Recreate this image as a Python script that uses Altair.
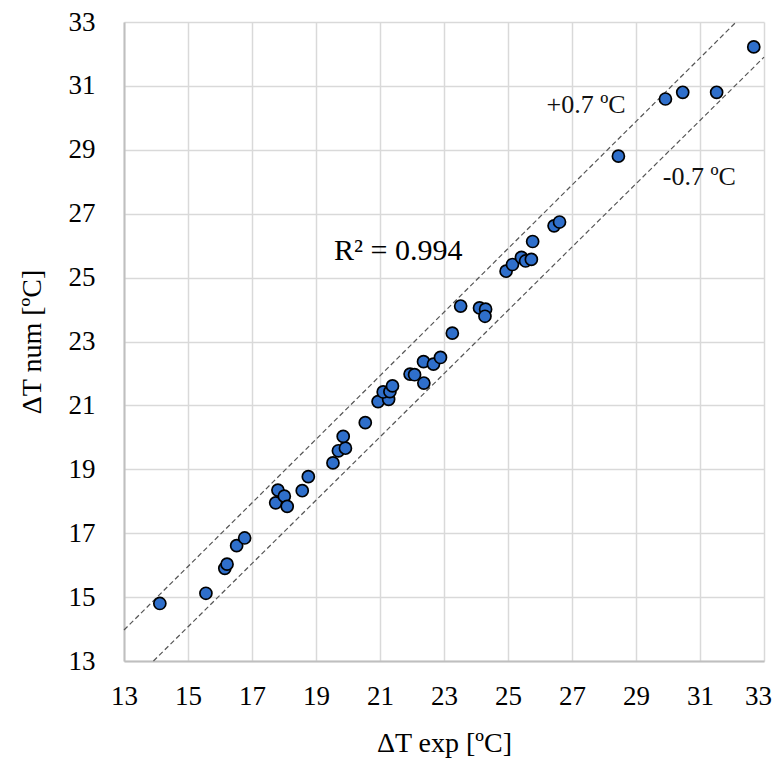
import altair as alt
import pandas as pd

x_exp = [14.12, 15.56, 16.15, 16.22, 16.52, 16.77, 17.74, 17.81, 18.01, 18.10,
         18.57, 18.76, 19.53, 19.70, 19.92, 19.85, 20.54, 20.94, 21.27, 21.10,
         21.31, 21.39, 21.94, 22.08, 22.37, 22.36, 22.67, 22.89, 23.26, 23.52,
         24.11, 24.30, 24.28, 24.94, 25.14, 25.42, 25.55, 25.73, 25.77, 26.44,
         26.61, 28.45, 29.92, 30.46, 31.52, 32.68]
y_num = [14.80, 15.12, 15.90, 16.03, 16.61, 16.85, 17.95, 18.35, 18.16, 17.84,
         18.33, 18.77, 19.20, 19.58, 19.66, 20.03, 20.46, 21.12, 21.19, 21.42,
         21.43, 21.61, 21.98, 21.96, 21.70, 22.37, 22.29, 22.50, 23.26, 24.11,
         24.05, 24.01, 23.79, 25.20, 25.41, 25.63, 25.52, 25.57, 26.13, 26.62,
         26.74, 28.80, 30.59, 30.80, 30.80, 32.22]

band_name = ["upper", "upper", "lower", "lower"]
band_x = [13.0, 32.13, 13.92, 33.0]
band_y = [13.97, 33.0, 13.0, 31.9]

label_text = ["+0.7 ºC", "-0.7 ºC"]
label_x = [27.44, 30.98]
label_y = [30.39, 28.14]

r2_text = ["R² = 0.994"]
r2_x = [21.57]
r2_y = [25.83]

ticks = [13, 15, 17, 19, 21, 23, 25, 27, 29, 31, 33]

pts = pd.DataFrame({"x": x_exp, "y": y_num})
bands = pd.DataFrame({"name": band_name, "x": band_x, "y": band_y})
labels = pd.DataFrame({"t": label_text, "x": label_x, "y": label_y})
r2 = pd.DataFrame({"t": r2_text, "x": r2_x, "y": r2_y})

FONT = "Liberation Serif"

xs = alt.Scale(domain=[13, 33], nice=False, zero=False)
ys = alt.Scale(domain=[13, 33], nice=False, zero=False)

xax = alt.Axis(
    values=ticks, title="ΔT exp [ºC]", labelPadding=22, titlePadding=20, labelFlush=False,
    labelOffset={"condition": {"test": "datum.value == 33", "value": -6}, "value": 0},
)
yax = alt.Axis(values=ticks, title="ΔT num [ºC]", labelPadding=29, titlePadding=22, labelFlush=False)

lines = alt.Chart(bands).mark_line(color="#555555", strokeWidth=1.2, strokeDash=[5, 3]).encode(
    x=alt.X("x:Q", scale=xs, axis=xax),
    y=alt.Y("y:Q", scale=ys, axis=yax),
    detail="name:N",
)

points = alt.Chart(pts).mark_point(
    filled=True, fill="#2f6fcb", stroke="#000000", strokeWidth=1.7, size=145, opacity=1
).encode(
    x=alt.X("x:Q", scale=xs),
    y=alt.Y("y:Q", scale=ys),
    shape=alt.value("circle"),
)

band_labels = alt.Chart(labels).mark_text(font=FONT, fontSize=26, color="#111111").encode(
    x=alt.X("x:Q", scale=xs),
    y=alt.Y("y:Q", scale=ys),
    text="t:N",
)

r2_label = alt.Chart(r2).mark_text(font=FONT, fontSize=30, color="#000000").encode(
    x=alt.X("x:Q", scale=xs),
    y=alt.Y("y:Q", scale=ys),
    text="t:N",
)

chart = alt.layer(lines, points, band_labels, r2_label).properties(
    width=640,
    height=639,
    autosize=alt.AutoSizeParams(type="none"),
    padding={"left": 116, "top": 14, "right": 8, "bottom": 97},
    background="white",
).configure_view(stroke=None).configure_axis(
    gridColor="#d9d9d9",
    gridWidth=1.5,
    domainColor="#bfbfbf",
    domainWidth=2,
    tickSize=0,
    labelFont=FONT,
    labelFontSize=27,
    labelColor="#000000",
    titleFont=FONT,
    titleFontSize=28,
    titleFontWeight="normal",
    titleColor="#000000",
)

chart.save("out.html", embed_options={"renderer": "svg", "actions": False})
